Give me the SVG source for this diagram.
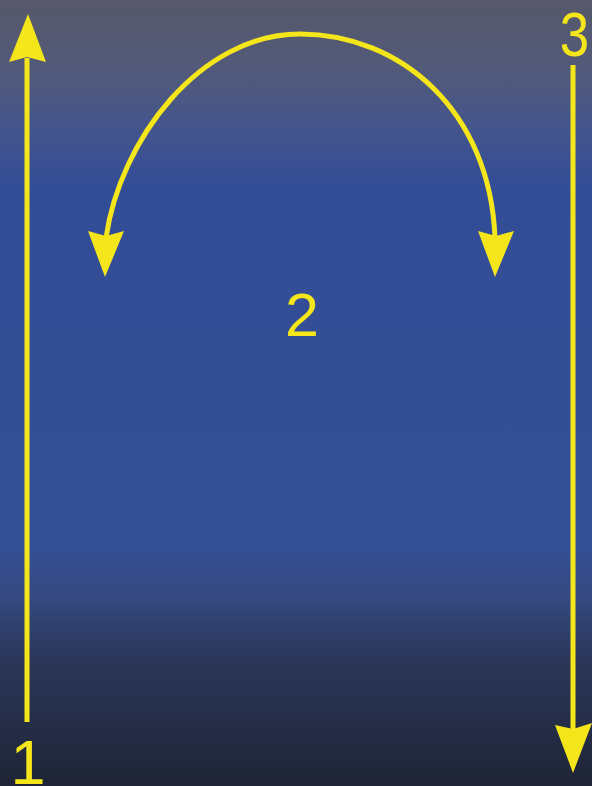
<svg xmlns="http://www.w3.org/2000/svg" width="592" height="786" viewBox="0 0 592 786">
  <defs>
    <linearGradient id="bg" x1="0" y1="0" x2="0" y2="1">
      <stop offset="0" stop-color="#56586a"/>
      <stop offset="0.08" stop-color="#535a78"/>
      <stop offset="0.16" stop-color="#45558c"/>
      <stop offset="0.24" stop-color="#324d97"/>
      <stop offset="0.70" stop-color="#354f95"/>
      <stop offset="0.76" stop-color="#34497f"/>
      <stop offset="0.84" stop-color="#2b3659"/>
      <stop offset="1" stop-color="#1f2536"/>
    </linearGradient>
    <style>
      .ln { fill: none; stroke: #f4e61a; stroke-width: 5; }
      .hd { fill: #f4e61a; stroke: none; }
      .lb { fill: #f4e61a; font-family: "Liberation Sans", Arial, sans-serif; text-anchor: middle; }
    </style>
  </defs>
  <rect x="0" y="0" width="592" height="786" fill="url(#bg)"/>
  <g id="connectors">
    <g id="arrow-1">
      <line class="ln" x1="27" y1="722" x2="27" y2="58"/>
      <polygon class="hd" points="28,14 46,62 27,57 9,62"/>
    </g>
    <g id="arrow-3">
      <line class="ln" x1="573" y1="65" x2="573" y2="731"/>
      <polygon class="hd" points="573,773 555,725 573,729 592,723"/>
    </g>
    <g id="arc-2">
      <path class="ln" d="M106,238 C120,140 200,34 300,34 C400,34 490,110 495,238"/>
      <polygon class="hd" points="105,277 88,231 106,236 124,231"/>
      <polygon class="hd" points="495,277 478,231 496,236 514,231"/>
    </g>
  </g>
  <g id="node-1">
    <text class="lb" x="28" y="784" font-size="63">1</text>
  </g>
  <g id="node-2">
    <text class="lb" x="302" y="336" font-size="61">2</text>
  </g>
  <g id="node-3">
    <text class="lb" transform="translate(574.5,56) scale(0.84,1)" x="0" y="0" font-size="63">3</text>
  </g>
</svg>
